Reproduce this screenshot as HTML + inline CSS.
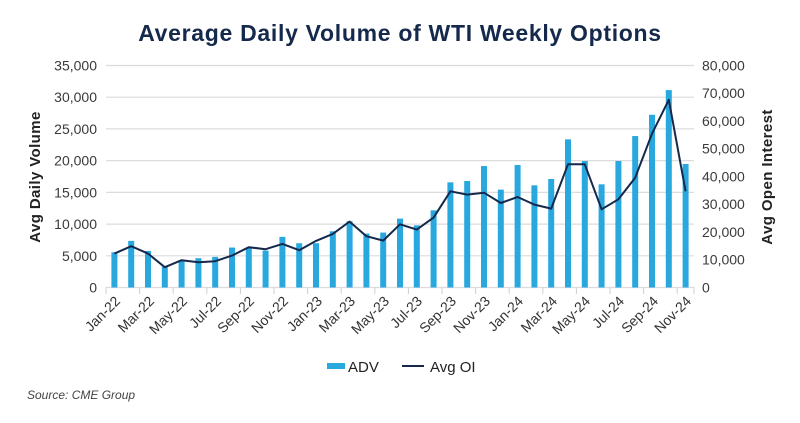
<!DOCTYPE html>
<html><head><meta charset="utf-8"><style>
body{margin:0;background:#fff;}
svg text{font-family:"Liberation Sans",sans-serif;}
</style></head><body>
<svg id="c" width="800" height="418" viewBox="0 0 800 418" xmlns="http://www.w3.org/2000/svg">
<rect width="800" height="418" fill="#fff"/>
<text x="400" y="41" text-anchor="middle" font-size="23" font-weight="bold" fill="#14294b" letter-spacing="0.7">Average Daily Volume of WTI Weekly Options</text>
<g stroke="#dcdcdc" stroke-width="1.2">
<line x1="106" x2="694" y1="65.5" y2="65.5"/><line x1="106" x2="694" y1="97.2" y2="97.2"/><line x1="106" x2="694" y1="128.9" y2="128.9"/><line x1="106" x2="694" y1="160.6" y2="160.6"/><line x1="106" x2="694" y1="192.4" y2="192.4"/><line x1="106" x2="694" y1="224.1" y2="224.1"/><line x1="106" x2="694" y1="255.8" y2="255.8"/><line x1="106" x2="694" y1="287.5" y2="287.5"/>
</g>
<g id="ticks" stroke="#d0d0d0" stroke-width="1"></g>
<g id="bars" fill="#29a8e0"></g>
<polyline id="oi" fill="none" stroke="#14294b" stroke-width="2" stroke-linejoin="round"/>
<g font-size="14" fill="#3a3a3a" text-anchor="end">
<text x="97" y="70.5">35,000</text><text x="97" y="102.2">30,000</text><text x="97" y="133.9">25,000</text><text x="97" y="165.6">20,000</text><text x="97" y="197.4">15,000</text><text x="97" y="229.1">10,000</text><text x="97" y="260.8">5,000</text><text x="97" y="292.5">0</text>
</g>
<g font-size="14" fill="#3a3a3a" text-anchor="start">
<text x="702" y="70.5">80,000</text><text x="702" y="98.2">70,000</text><text x="702" y="125.9">60,000</text><text x="702" y="153.7">50,000</text><text x="702" y="181.4">40,000</text><text x="702" y="209.2">30,000</text><text x="702" y="236.9">20,000</text><text x="702" y="264.7">10,000</text><text x="702" y="292.5">0</text>
</g>
<text transform="translate(40,177) rotate(-90)" text-anchor="middle" font-size="15" font-weight="bold" fill="#222" letter-spacing="0.4">Avg Daily Volume</text>
<text transform="translate(772,177) rotate(-90)" text-anchor="middle" font-size="15" font-weight="bold" fill="#222" letter-spacing="0.4">Avg Open Interest</text>
<g font-size="14" fill="#333" text-anchor="end">
<text transform="translate(121,302) rotate(-45)">Jan-22</text>
<text transform="translate(155,302) rotate(-45)">Mar-22</text>
<text transform="translate(188,302) rotate(-45)">May-22</text>
<text transform="translate(222,302) rotate(-45)">Jul-22</text>
<text transform="translate(255,302) rotate(-45)">Sep-22</text>
<text transform="translate(289,302) rotate(-45)">Nov-22</text>
<text transform="translate(323,302) rotate(-45)">Jan-23</text>
<text transform="translate(356,302) rotate(-45)">Mar-23</text>
<text transform="translate(390,302) rotate(-45)">May-23</text>
<text transform="translate(423,302) rotate(-45)">Jul-23</text>
<text transform="translate(457,302) rotate(-45)">Sep-23</text>
<text transform="translate(491,302) rotate(-45)">Nov-23</text>
<text transform="translate(524,302) rotate(-45)">Jan-24</text>
<text transform="translate(558,302) rotate(-45)">Mar-24</text>
<text transform="translate(591,302) rotate(-45)">May-24</text>
<text transform="translate(625,302) rotate(-45)">Jul-24</text>
<text transform="translate(659,302) rotate(-45)">Sep-24</text>
<text transform="translate(692,302) rotate(-45)">Nov-24</text>
</g>
<rect x="327" y="363" width="18" height="6" fill="#29a8e0"/>
<text x="348" y="372" font-size="15" fill="#222">ADV</text>
<line x1="402" x2="424" y1="366" y2="366" stroke="#14294b" stroke-width="2"/>
<text x="430" y="372" font-size="15" fill="#222">Avg OI</text>
<text x="27" y="399" font-size="12" font-style="italic" fill="#444">Source: CME Group</text>
</svg>
<script>
var adv=[5560,7350,5770,3250,4300,4620,4830,6300,6300,5820,7980,6980,6980,8870,10440,8500,8660,10860,9800,12170,16580,16790,19150,15430,19310,16110,17110,23350,19940,16270,19940,23880,27230,31120,19470];
var oi=[12230,14870,12230,7320,9840,9120,9480,11510,14510,13790,15710,13430,16790,19310,23750,18470,16910,22790,20870,25190,34660,33460,34180,30460,32620,29860,28420,44380,44380,28180,31780,39580,55410,67640,34660];
var ns="http://www.w3.org/2000/svg",b=document.getElementById("bars"),pts=[];
for(var i=0;i<35;i++){var cx=114.4+16.8*i,y=287.5-adv[i]/35000*222;
var r=document.createElementNS(ns,"rect");r.setAttribute("x",cx-3);r.setAttribute("y",y);r.setAttribute("width",6);r.setAttribute("height",287.5-y);b.appendChild(r);
pts.push(cx.toFixed(1)+","+(287.5-oi[i]/80000*222).toFixed(1));}
document.getElementById("oi").setAttribute("points",pts.join(" "));
var t=document.getElementById("ticks");
for(var k=0;k<=18;k++){var x=Math.min(106+33.6*k,694);var l=document.createElementNS(ns,"line");l.setAttribute("x1",x);l.setAttribute("x2",x);l.setAttribute("y1",287.5);l.setAttribute("y2",294);t.appendChild(l);}
</script>
</body></html>
